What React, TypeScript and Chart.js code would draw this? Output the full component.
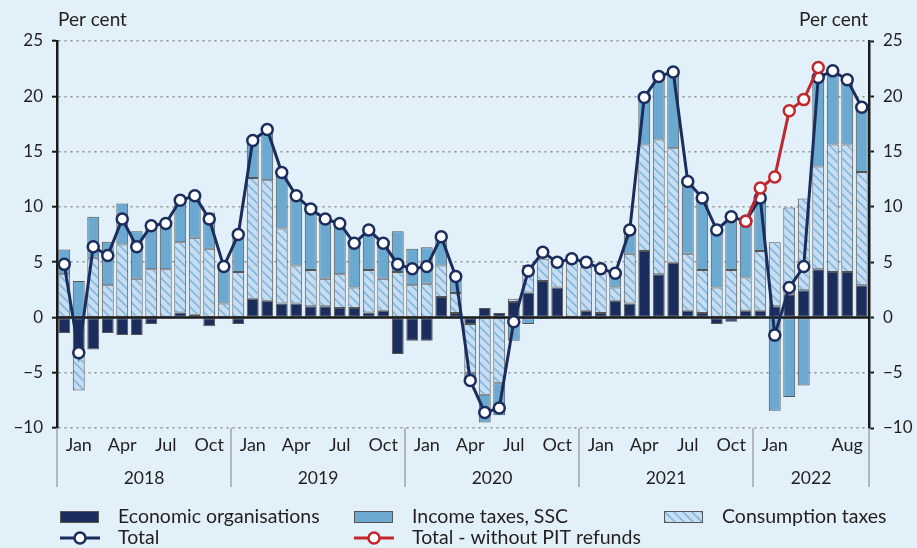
import React, { useEffect, useRef } from 'react';
import { Chart, registerables } from 'chart.js';

Chart.register(...registerables);

// ---------- data (Jan 2018 – Aug 2022), per cent ----------
const years = ['2018', '2019', '2020', '2021', '2022'];
const monthsPerYear = [12, 12, 12, 12, 8];

// month tick labels as they appear on the reference axis
const monthTicks = [
  '', 'Jan', '', '', 'Apr', '', '', 'Jul', '', '', 'Oct', '',
  '', 'Jan', '', '', 'Apr', '', '', 'Jul', '', '', 'Oct', '',
  '', 'Jan', '', '', 'Apr', '', '', 'Jul', '', '', 'Oct', '',
  '', 'Jan', '', '', 'Apr', '', '', 'Jul', '', '', 'Oct', '',
  '', 'Jan', '', '', '', '', 'Aug', '',
];

const econOrgs = [
  -1.4, -3.1, -2.9, -1.4, -1.6, -1.6, -0.6, -0.1, 0.45, 0.25, -0.8, -0.1,
  -0.6, 1.7, 1.5, 1.25, 1.25, 1.0, 1.0, 0.85, 0.85, 0.45, 0.6, -3.3,
  -2.1, -2.1, 1.85, 0.4, -0.6, 0.85, 0.4, 1.4, 2.25, 3.3, 2.7, 0.0,
  0.6, 0.4, 1.5, 1.25, 6.0, 3.9, 4.95, 0.6, 0.4, -0.6, -0.4, 0.6,
  0.6, 1.0, 2.1, 2.45, 4.35, 4.1, 4.1, 2.9,
];

const consumptionTaxes = [
  3.9, -3.5, 5.4, 2.9, 6.6, 3.5, 4.35, 4.35, 6.35, 6.95, 6.2, 1.25,
  4.1, 10.9, 10.9, 6.8, 3.45, 3.3, 2.5, 3.05, 1.85, 3.85, 2.9, 4.1,
  2.9, 3.05, 2.85, 1.8, -4.4, -7.0, -5.95, 0.3, 2.5, 2.0, 1.9, 4.9,
  3.95, 3.6, 1.2, 4.5, 9.65, 12.2, 10.35, 5.15, 3.9, 2.7, 4.3, 3.0,
  5.4, 5.8, 7.85, 8.3, 9.3, 11.55, 11.55, 10.25,
];

const incomeTaxes = [
  2.25, 3.3, 3.7, 3.95, 3.7, 4.3, 4.2, 3.9, 3.55, 3.5, 3.3, 3.6,
  3.75, 3.4, 4.5, 4.75, 6.0, 5.2, 5.15, 4.3, 4.0, 3.3, 2.9, 3.7,
  3.3, 3.3, 2.3, 1.3, -0.75, -2.5, -2.9, -2.1, -0.6, -0.15, 0.2, 0.2,
  -0.15, -0.15, 0.95, 2.1, 4.0, 5.65, 6.6, 6.4, 6.45, 5.2, 5.15, 5.15,
  4.55, -8.45, -7.2, -6.15, 8.15, 6.55, 5.55, 5.6,
];

const total = [
  4.8, -3.2, 6.4, 5.6, 8.9, 6.4, 8.3, 8.5, 10.6, 11.0, 8.9, 4.6,
  7.5, 16.0, 17.0, 13.1, 11.0, 9.8, 8.9, 8.5, 6.7, 7.9, 6.7, 4.8,
  4.4, 4.6, 7.3, 3.7, -5.7, -8.6, -8.2, -0.4, 4.2, 5.9, 5.0, 5.3,
  5.0, 4.4, 4.0, 7.9, 19.9, 21.8, 22.2, 12.3, 10.8, 7.9, 9.1, 8.7,
  10.8, -1.6, 2.7, 4.6, 21.7, 22.3, 21.5, 19.0,
];

const totalWithoutRefunds: (number | null)[] = [
  null, null, null, null, null, null, null, null, null, null, null, null,
  null, null, null, null, null, null, null, null, null, null, null, null,
  null, null, null, null, null, null, null, null, null, null, null, null,
  null, null, null, null, null, null, null, null, null, null, null, 8.7,
  11.7, 12.7, 18.7, 19.7, 22.6, null, null, null,
];

const yTicks = { min: -10, max: 25, step: 5 };

// ---------- style ----------
const BG = '#e2f0f9';
const NAVY = '#1b2d5c';
const MID = '#6ba9d1';
const LIGHT = '#c7ddf1';
const STRIPE = '#82b8df';
const RED = '#c1272d';
const TEXT = '#231f20';
const FONT = 'Lato, "Open Sans", sans-serif';
const FS_TICK = 17;
const FS_MONTH = 18;
const FS_YEAR = 17.5;
const FS_UNIT = 19;
const FS_LEGEND = 19.5;

function makeHatch(): CanvasPattern | string {
  const c = document.createElement('canvas');
  const n = 9;
  c.width = n;
  c.height = n;
  const g = c.getContext('2d');
  if (!g) return LIGHT;
  g.fillStyle = LIGHT;
  g.fillRect(0, 0, n, n);
  g.strokeStyle = STRIPE;
  g.lineWidth = 1.6;
  g.beginPath();
  g.moveTo(-1, -1);
  g.lineTo(n + 1, n + 1);
  g.moveTo(-1, n - 1);
  g.lineTo(1, n + 1);
  g.moveTo(n - 1, -1);
  g.lineTo(n + 1, 1);
  g.stroke();
  return g.createPattern(c, 'repeat') || LIGHT;
}

const fmt = (v: number | string) => String(v).replace('-', '\u2212');

export default function App() {
  const ref = useRef<HTMLCanvasElement | null>(null);

  useEffect(() => {
    document.body.style.margin = '0';
    const canvas = ref.current;
    if (!canvas) return;
    const hatch = makeHatch();

    const categories: string[] = [];
    years.forEach((y, yi) => {
      for (let m = 0; m < monthsPerYear[yi]; m++) categories.push(`${y}-${m + 1}`);
    });

    const zeroLine = {
      id: 'zeroLine',
      beforeDatasetDraw(chart: any, args: any) {
        if (args.index !== 3) return;
        const { ctx, chartArea, scales } = chart;
        const y = scales.y.getPixelForValue(0);
        ctx.save();
        ctx.strokeStyle = '#1a1a1a';
        ctx.lineWidth = 2.5;
        ctx.beginPath();
        ctx.moveTo(chartArea.left, y);
        ctx.lineTo(chartArea.right, y);
        ctx.stroke();
        ctx.restore();
      },
    };

    const decor = {
      id: 'decor',
      afterDraw(chart: any) {
        const { ctx, chartArea, scales } = chart;
        const xs = scales.x;
        ctx.save();
        // year separators and labels
        ctx.strokeStyle = '#a3a3a3';
        ctx.lineWidth = 1.5;
        ctx.fillStyle = TEXT;
        ctx.font = `${FS_YEAR}px ${FONT}`;
        ctx.textAlign = 'center';
        ctx.textBaseline = 'middle';
        let start = 0;
        const yTop = chartArea.bottom;
        const yBot = chartArea.bottom + 59;
        years.forEach((yr, i) => {
          const end = start + monthsPerYear[i];
          const x0 = xs.getPixelForValue(start - 0.5);
          const x1 = xs.getPixelForValue(end - 0.5);
          ctx.beginPath();
          ctx.moveTo(x0, yTop);
          ctx.lineTo(x0, yBot);
          ctx.stroke();
          if (i === years.length - 1) {
            ctx.beginPath();
            ctx.moveTo(x1, yTop);
            ctx.lineTo(x1, yBot);
            ctx.stroke();
          }
          ctx.fillText(yr, (x0 + x1) / 2, chartArea.bottom + 50);
          start = end;
        });
        // axis unit labels
        ctx.font = `${FS_UNIT}px ${FONT}`;
        ctx.textAlign = 'left';
        ctx.fillText('Per cent', chartArea.left + 1, 20);
        ctx.textAlign = 'right';
        ctx.fillText('Per cent', chartArea.right - 1, 20);

        // legend
        ctx.font = `${FS_LEGEND}px ${FONT}`;
        const r1 = 517;
        const r2 = 538;
        const cols = [60, 354, 664];
        const textOff = 58;
        const boxW = 39;
        const boxH = 12;
        const boxes = [
          { fill: NAVY, label: 'Economic organisations' },
          { fill: MID, label: 'Income taxes, SSC' },
          { fill: hatch, label: 'Consumption taxes' },
        ];
        ctx.textAlign = 'left';
        boxes.forEach((b, i) => {
          const x = cols[i];
          ctx.fillStyle = b.fill as any;
          ctx.fillRect(x, r1 - boxH / 2, boxW, boxH);
          ctx.strokeStyle = '#555';
          ctx.lineWidth = 1;
          ctx.strokeRect(x + 0.5, r1 - boxH / 2 + 0.5, boxW - 1, boxH - 1);
          ctx.fillStyle = TEXT;
          ctx.fillText(b.label, x + textOff, r1);
        });
        const lines = [
          { color: NAVY, label: 'Total' },
          { color: RED, label: 'Total - without PIT refunds' },
        ];
        lines.forEach((l, i) => {
          const x = cols[i];
          ctx.strokeStyle = l.color;
          ctx.lineWidth = 3;
          ctx.beginPath();
          ctx.moveTo(x, r2);
          ctx.lineTo(x + boxW + 1, r2);
          ctx.stroke();
          ctx.beginPath();
          ctx.arc(x + boxW / 2 + 0.5, r2, 5.5, 0, Math.PI * 2);
          ctx.fillStyle = '#fff';
          ctx.fill();
          ctx.lineWidth = 2.5;
          ctx.stroke();
          ctx.fillStyle = TEXT;
          ctx.fillText(l.label, x + textOff, r2);
        });
        ctx.restore();
      },
    };

    const barCommon = {
      borderColor: '#555',
      borderWidth: 1,
      borderSkipped: false as const,
      stack: 'bars',
      order: 2,
      barPercentage: 0.82,
      categoryPercentage: 1,
    };
    const lineCommon = {
      type: 'line' as const,
      borderWidth: 3,
      pointRadius: 5.5,
      pointHoverRadius: 5.5,
      pointBorderWidth: 2.5,
      pointBackgroundColor: '#ffffff',
      tension: 0,
      spanGaps: false,
    };

    const yTickOpts = {
      stepSize: yTicks.step,
      padding: 9,
      color: TEXT,
      font: { family: FONT, size: FS_TICK },
      callback: (v: any) => fmt(v),
    };

    const chart = new Chart(canvas, {
      type: 'bar',
      data: {
        labels: categories,
        datasets: [
          { ...barCommon, label: 'Economic organisations', data: econOrgs, backgroundColor: NAVY },
          { ...barCommon, label: 'Consumption taxes', data: consumptionTaxes, backgroundColor: hatch as any },
          { ...barCommon, label: 'Income taxes, SSC', data: incomeTaxes, backgroundColor: MID },
          {
            ...lineCommon,
            label: 'Total',
            data: total,
            borderColor: NAVY,
            pointBorderColor: NAVY,
            stack: 'total',
            order: 1,
          } as any,
          {
            ...lineCommon,
            label: 'Total - without PIT refunds',
            data: totalWithoutRefunds,
            borderColor: RED,
            pointBorderColor: RED,
            stack: 'red',
            order: 0,
          } as any,
        ],
      },
      options: {
        animation: false,
        responsive: false,
        maintainAspectRatio: false,
        events: [],
        layout: { padding: { top: 41, left: 0, right: 0, bottom: 0 } },
        plugins: { legend: { display: false }, tooltip: { enabled: false }, title: { display: false } },
        scales: {
          x: {
            type: 'category',
            offset: true,
            stacked: true,
            grid: { display: false, drawTicks: false },
            border: { display: false },
            ticks: {
              autoSkip: false,
              maxRotation: 0,
              minRotation: 0,
              padding: 6,
              color: TEXT,
              font: { family: FONT, size: FS_MONTH },
              callback: (_v: any, i: number) => monthTicks[i],
            },
            afterFit: (s: any) => {
              s.height = 120;
            },
          },
          y: {
            position: 'left',
            stacked: true,
            min: yTicks.min,
            max: yTicks.max,
            ticks: yTickOpts,
            grid: {
              color: (c: any) => (c.tick && c.tick.value === 0 ? 'rgba(0,0,0,0)' : '#8e8e8e'),
              lineWidth: 1.4,
              drawTicks: true,
              tickLength: 5,
              tickColor: '#1a1a1a',
              tickWidth: 2,
              tickBorderDash: [],
            },
            border: { display: true, color: '#1a1a1a', width: 2.5, dash: [2, 4] },
            afterFit: (s: any) => {
              s.width = 57;
            },
          },
          y2: {
            position: 'right',
            min: yTicks.min,
            max: yTicks.max,
            ticks: yTickOpts,
            grid: {
              drawOnChartArea: false,
              drawTicks: true,
              tickLength: 5,
              tickColor: '#1a1a1a',
              tickWidth: 2,
            },
            border: { display: true, color: '#1a1a1a', width: 2.5 },
            afterFit: (s: any) => {
              s.width = 48;
            },
          },
        },
      } as any,
      plugins: [zeroLine, decor],
    });
    return () => chart.destroy();
  }, []);

  return (
    <div style={{ position: 'fixed', left: 0, top: 0, width: 917, height: 548, background: BG }}>
      <canvas ref={ref} width={917} height={548} style={{ display: 'block', width: 917, height: 548 }} />
    </div>
  );
}
